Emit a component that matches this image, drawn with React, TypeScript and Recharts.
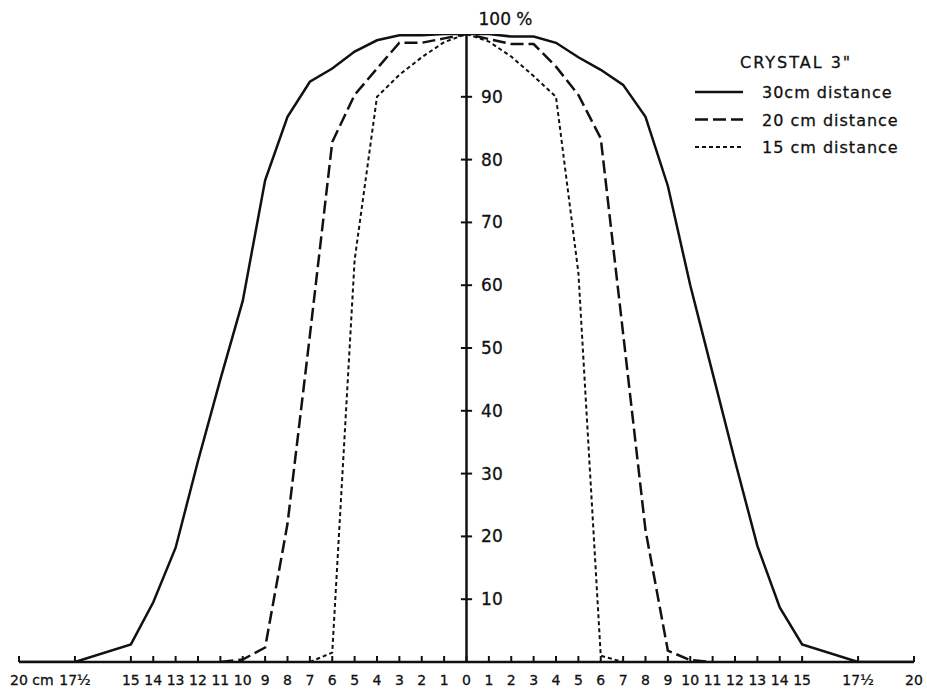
/**
 * Crystal 3" detection profile
 * Relative response vs. lateral offset for three source distances
 */

import { LineChart, Line, XAxis, YAxis, ReferenceLine, Legend } from 'recharts';

const INK = '#111';
const FONT = '"DejaVu Sans", sans-serif';

// axis ticks
const X_TICKS = [-20, -17.5, -15, -14, -13, -12, -11, -10, -9, -8, -7, -6, -5, -4, -3, -2, -1, 0,
  1, 2, 3, 4, 5, 6, 7, 8, 9, 10, 11, 12, 13, 14, 15, 17.5, 20];
const Y_TICKS = [10, 20, 30, 40, 50, 60, 70, 80, 90];

// 30 cm distance
const POS_30 = [-20, -17.5, -15, -14, -13, -12, -11, -10, -9, -8, -7, -6, -5, -4, -3, -2, -1, 0,
  1, 2, 3, 4, 5, 6, 7, 8, 9, 10, 11, 12, 13, 14, 15, 17.5, 20];
const PCT_30 = [0, 0, 2.8, 9.5, 18.2, 32, 45, 57.5, 76.7, 86.8, 92.4, 94.5, 97.2, 99, 99.8, 99.8, 100, 100,
  100, 99.6, 99.6, 98.6, 96.3, 94.3, 91.9, 86.8, 75.8, 60, 46, 32, 18.5, 8.7, 2.8, 0, 0];

// 20 cm distance
const POS_20 = [-11, -10, -9, -8, -7, -6, -5, -4, -3, -2, -1, 0, 1, 2, 3, 4, 5, 6, 7, 8, 9, 10, 11];
const PCT_20 = [0, 0.4, 2.3, 22, 52, 82.8, 90.3, 94.5, 98.6, 98.6, 99.3, 100,
  99.2, 98.4, 98.4, 94.8, 90.3, 83.4, 52.3, 21, 1.8, 0.3, 0];

// 15 cm distance
const POS_15 = [-7, -6, -5, -4, -3, -2, -1, 0, 1, 2, 3, 4, 5, 6, 7];
const PCT_15 = [0, 1.5, 64, 90, 93.5, 96.3, 98.7, 100, 98.8, 96.4, 93.3, 90, 62, 1, 0];

const toPoints = (pos: number[], pct: number[]) => pos.map((x, i) => ({ x, y: pct[i] }));

const SERIES = [
  { name: '30cm distance', data: toPoints(POS_30, PCT_30), dash: undefined, width: 2.5 },
  { name: '20 cm distance', data: toPoints(POS_20, PCT_20), dash: '13 5', width: 2.5 },
  { name: '15 cm distance', data: toPoints(POS_15, PCT_15), dash: '4 3', width: 2 },
];

const tickText = (v: number) => {
  const a = Math.abs(v);
  return a === 17.5 ? '17½' : String(a);
};

// slight stroke to match the heavier lettering of the original
const textStyle = { fontFamily: FONT, fill: INK, stroke: INK, strokeWidth: 0.3 };

const XTick = ({ x, y, payload }: any) => {
  const v = payload.value;
  return (
    <g>
      <line x1={x} y1={y} x2={x} y2={y - 6} stroke={INK} strokeWidth={2} />
      {v === -20 ? (
        <text x={x - 9} y={y + 23} textAnchor="start" fontSize={14} {...textStyle}>
          20 cm
        </text>
      ) : (
        <text x={x} y={y + 23} textAnchor="middle" fontSize={14} {...textStyle}>
          {tickText(v)}
        </text>
      )}
    </g>
  );
};

const TopLabel = ({ viewBox }: any) => (
  <text x={viewBox.x + 12} y={viewBox.y - 9} fontSize={17} {...textStyle}>
    100 %
  </text>
);

const CrystalLegend = () => (
  <svg width={230} height={115} style={{ display: 'block' }}>
    <text x={50} y={23} fontSize={16} letterSpacing={2} {...textStyle}>
      CRYSTAL 3"
    </text>
    {SERIES.map((s, i) => {
      const y = 47 + i * 27.5;
      return (
        <g key={s.name}>
          <line x1={5} x2={53} y1={y} y2={y} stroke={INK} strokeWidth={s.width} strokeDasharray={s.dash} />
          <text x={72} y={y + 6} fontSize={16} letterSpacing={1} {...textStyle}>
            {s.name}
          </text>
        </g>
      );
    })}
  </svg>
);

export default function App() {
  return (
    <div style={{ position: 'absolute', left: 0, top: 0, background: '#fff' }}>
      <LineChart width={927} height={689} margin={{ top: 34, right: 13, bottom: 0, left: 19 }}>
        <XAxis
          type="number"
          dataKey="x"
          domain={[-20, 20]}
          ticks={X_TICKS}
          interval={0}
          height={27}
          tickSize={0}
          tickMargin={0}
          tickLine={false}
          axisLine={{ stroke: INK, strokeWidth: 2.5 }}
          tick={<XTick />}
        />
        <YAxis type="number" dataKey="y" domain={[0, 100]} hide allowDataOverflow />
        <ReferenceLine x={0} stroke={INK} strokeWidth={2.5} label={<TopLabel />} />
        {Y_TICKS.map((v) => (
          <ReferenceLine
            key={v}
            segment={[{ x: -0.25, y: v }, { x: 0.25, y: v }]}
            stroke={INK}
            strokeWidth={2}
            label={{ value: String(v), position: 'right', offset: 9, fontSize: 17, ...textStyle }}
          />
        ))}
        {SERIES.map((s) => (
          <Line
            key={s.name}
            name={s.name}
            data={s.data}
            dataKey="y"
            type="linear"
            stroke={INK}
            strokeWidth={s.width}
            strokeDasharray={s.dash}
            dot={false}
            activeDot={false}
            isAnimationActive={false}
          />
        ))}
        <Legend
          layout="horizontal"
          verticalAlign="middle"
          align="center"
          content={<CrystalLegend />}
          wrapperStyle={{ left: 690, top: 45, width: 230 }}
        />
      </LineChart>
    </div>
  );
}
